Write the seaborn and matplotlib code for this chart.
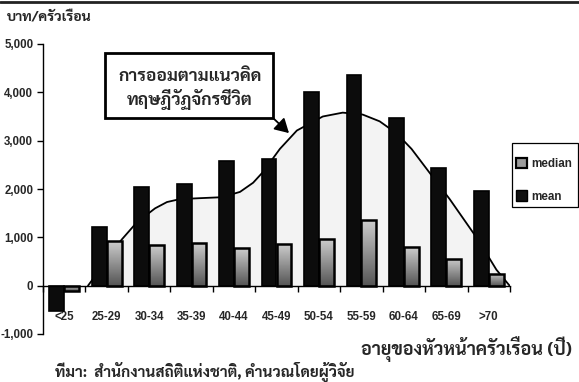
import numpy as np
import pandas as pd
import matplotlib
matplotlib.use("Agg")
import matplotlib.pyplot as plt
from matplotlib import font_manager
from matplotlib.lines import Line2D
from matplotlib.patches import Patch, Rectangle
import seaborn as sns

# ---- data -------------------------------------------------------------
age_groups = ["<25", "25-29", "30-34", "35-39", "40-44", "45-49",
              "50-54", "55-59", "60-64", "65-69", ">70"]
mean_saving = [-520, 1220, 2050, 2100, 2580, 2620, 4000, 4350, 3470, 2430, 1950]
median_saving = [-120, 930, 840, 880, 780, 860, 970, 1360, 790, 560, 250]

# life-cycle saving curve (x in category positions, y in baht/household)
cycle_x = [0.56, 0.72, 1.05, 1.36, 1.71, 2.14, 2.42, 2.72, 3.19, 3.71, 4.14,
           4.45, 4.68, 5.08, 5.48, 6.09, 6.56, 7.03, 7.43, 7.83, 8.18, 8.68,
           9.08, 9.74, 10.18, 10.49]
cycle_y = [0, 190, 620, 960, 1310, 1600, 1730, 1790, 1810, 1830, 1940,
           2130, 2350, 2830, 3210, 3500, 3580, 3540, 3400, 3150, 2830, 2250,
           1790, 960, 330, 0]

y_ticks = [-1000, 0, 1000, 2000, 3000, 4000, 5000]

# ---- fonts ------------------------------------------------------------
sns.set_theme(style="white")
bold_families = {f.name for f in font_manager.fontManager.ttflist
                 if f.weight in (700, "bold") and f.style == "normal"}
thai_font = next((f for f in ["Sarabun", "Noto Sans Thai Looped",
                              "IBM Plex Sans Thai Looped", "Niramit", "Krub",
                              "K2D", "Trirong"] if f in bold_families),
                 "DejaVu Sans")
latin = "Liberation Sans"
plt.rcParams["font.family"] = [latin, "DejaVu Sans"]
thai_family = [thai_font, latin]

W, H = 579, 382


def fx(px):
    return px / W


def fy(py):
    return 1 - py / H


# ---- figure -----------------------------------------------------------
fig = plt.figure(figsize=(5.79, 3.82), dpi=100)
ax = fig.add_axes([fx(43), fy(334), (510 - 43) / W, (334 - 44) / H])

df = pd.DataFrame({
    "age": age_groups * 2,
    "stat": ["mean"] * len(age_groups) + ["median"] * len(age_groups),
    "value": mean_saving + median_saving,
})

# curve with its shaded area, behind the bars
ax.fill_between(cycle_x, cycle_y, 0, color="#f3f3f3", zorder=0.3, lw=0)
ax.plot(cycle_x, cycle_y, color="black", lw=1.3, zorder=0.6)

sns.barplot(data=df, x="age", y="value", hue="stat", hue_order=["mean", "median"],
            palette={"mean": "#0c0c0c", "median": "#999999"}, order=age_groups,
            width=0.7, dodge=True, errorbar=None, legend=False, ax=ax,
            edgecolor="black", linewidth=1.0, zorder=2)

for p in ax.containers[0]:
    p.set_edgecolor("#000000")
    p.set_linewidth(1.2)

# median bars: vertical grey gradient
grad = np.linspace(0, 1, 64).reshape(-1, 1)
gcmap = matplotlib.colors.LinearSegmentedColormap.from_list(
    "g", ["#cccccc", "#555555"])
for p in ax.containers[1]:
    x0, y0 = p.get_x(), p.get_y()
    w, h = p.get_width(), p.get_height()
    p.set_facecolor("none")
    p.set_linewidth(1.8)
    p.set_zorder(3)
    ylo, yhi = min(y0, y0 + h), max(y0, y0 + h)
    im = ax.imshow(grad, extent=[x0, x0 + w, ylo, yhi], origin="upper",
                   cmap=gcmap, aspect="auto", zorder=2.5,
                   interpolation="bilinear")
    im.set_clip_path(p)

ax.set_xlim(-0.5, 10.5)
ax.set_ylim(-1000, 5000)
ax.set_xlabel("")
ax.set_ylabel("")

# axes styling
for s in ["top", "right"]:
    ax.spines[s].set_visible(False)
ax.spines["bottom"].set_position(("data", 0))
ax.spines["left"].set_position(("data", -0.5))
for s in ["bottom", "left"]:
    ax.spines[s].set_color("black")
    ax.spines[s].set_linewidth(1.0)
    ax.spines[s].set_zorder(4)

ax.set_yticks(y_ticks)
ax.set_yticklabels([f"{v:,}" for v in y_ticks], fontweight="bold", fontsize=8.3)
ax.tick_params(axis="y", direction="out", length=4, width=1, color="black",
               pad=3, left=True)

ax.set_xticks(range(len(age_groups)))
ax.set_xticklabels(age_groups, fontweight="bold", fontsize=8.3)
ax.set_xticks(np.arange(-0.5, 10.6, 1.0), minor=True)
ax.tick_params(axis="x", which="major", length=0, pad=18)
ax.tick_params(axis="x", which="minor", direction="out", length=4, width=1,
               color="black", bottom=True)
ax.grid(False)
ax.set_facecolor("none")

# legend with a plain rectangular frame
handles = [Patch(facecolor="#9a9a9a", edgecolor="black", lw=1.6, label="median"),
           Patch(facecolor="#111111", edgecolor="black", lw=1.0, label="mean")]
leg = fig.legend(handles=handles, loc="upper left",
                 bbox_to_anchor=(fx(516), fy(158)), frameon=False,
                 prop={"family": latin, "weight": "bold", "size": 8.4},
                 handlelength=0.95, handleheight=0.95, handletextpad=0.35,
                 labelspacing=1.75, borderpad=0, borderaxespad=0)
fig.add_artist(Rectangle((fx(512), fy(207)), (578 - 512) / W, (207 - 143) / H,
                         transform=fig.transFigure, fill=False,
                         ec="black", lw=0.9))

# annotation box with arrow
fig.add_artist(Rectangle((fx(105), fy(118)), (273 - 105) / W, (118 - 53) / H,
                         transform=fig.transFigure, fc="white", ec="black",
                         lw=2.0, zorder=5))
fig.text(fx(190), fy(89), "การออมตามแนวคิด\nทฤษฎีวัฏจักรชีวิต",
         family=thai_family, fontsize=12.5, fontweight="bold",
         ha="center", va="center", linespacing=1.25, zorder=6)
ax.annotate("", xy=(291, H - 135), xycoords="figure pixels",
            xytext=(272, H - 117), textcoords="figure pixels",
            arrowprops=dict(arrowstyle="-|>,head_length=0.7,head_width=0.4",
                            color="black", lw=1.3))

# titles and notes
fig.text(fx(7), fy(17), "บาท/ครัวเรือน", family=thai_family,
         fontsize=10.2, fontweight="bold", ha="left", va="center")
fig.text(fx(572), fy(349), "อายุของหัวหน้าครัวเรือน (ปี)",
         family=thai_family, fontsize=13, fontweight="bold",
         ha="right", va="center")
fig.text(fx(55), fy(372),
         "ที่มา:  สำนักงานสถิติแห่งชาติ, คำนวณโดยผู้วิจัย",
         family=thai_family, fontsize=11, fontweight="bold",
         ha="left", va="center")

# top rule
fig.add_artist(Line2D([0, 1], [fy(2), fy(2)], color="#222222",
                      lw=2, transform=fig.transFigure))

fig.savefig("out.png", dpi=100, facecolor="white")
